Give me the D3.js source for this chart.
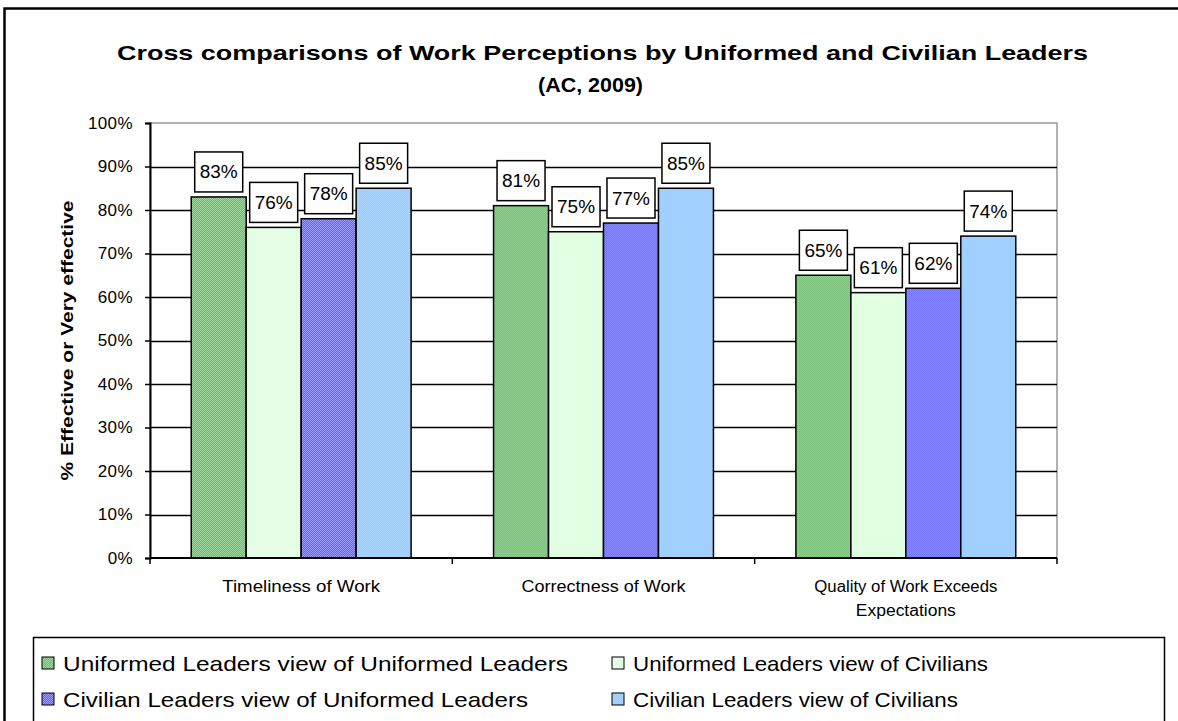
<!DOCTYPE html>
<html>
<head>
<meta charset="utf-8">
<script src="https://cdn.jsdelivr.net/npm/d3@7"></script>
<style>
  body { margin: 0; background: #fff; }
  svg { font-family: "Liberation Sans", Arial, sans-serif; display: block; }
</style>
</head>
<body>
<div id="chart"></div>
<script>
const categories = [["Timeliness of Work"], ["Correctness of Work"], ["Quality of Work Exceeds", "Expectations"]];
const seriesNames = [
  "Uniformed Leaders view of Uniformed Leaders",
  "Uniformed Leaders view of Civilians",
  "Civilian Leaders view of Uniformed Leaders",
  "Civilian Leaders view of Civilians"
];
const uniformedOfUniformed = [83, 81, 65];
const uniformedOfCivilians = [76, 75, 61];
const civilianOfUniformed = [78, 77, 62];
const civilianOfCivilians = [85, 85, 74];
const yTicks = [0, 10, 20, 30, 40, 50, 60, 70, 80, 90, 100];

const allSeries = [uniformedOfUniformed, uniformedOfCivilians, civilianOfUniformed, civilianOfCivilians];
const fills = [
  { a: "#6cb86c", b: "#a0d8a0" },
  { a: "#ddffdd", b: "#e6ffe6" },
  { a: "#6262ff", b: "#9a9aff" },
  { a: "#99ccff", b: "#a8d4ff" }
];
// widths the old Excel render stretches its text to
const catLineWidths = [[158], [164], [183, 100]];
const legendWidths = [505, 355, 465, 325];

const W = 1178, H = 721;
const plot = { left: 150, right: 1057, top: 123, bottom: 558 };

const svg = d3.select("#chart").append("svg")
  .attr("width", W).attr("height", H);

const defs = svg.append("defs");
fills.forEach((f, i) => {
  const p = defs.append("pattern")
    .attr("id", "pat" + i)
    .attr("width", 2).attr("height", 2)
    .attr("patternUnits", "userSpaceOnUse");
  p.append("rect").attr("width", 2).attr("height", 2).attr("fill", f.a);
  p.append("rect").attr("width", 1).attr("height", 1).attr("fill", f.b);
  p.append("rect").attr("x", 1).attr("y", 1).attr("width", 1).attr("height", 1).attr("fill", f.b);
});

// outer frame
svg.append("rect")
  .attr("x", 4.5).attr("y", 8.5)
  .attr("width", W + 20).attr("height", H + 20)
  .attr("fill", "none").attr("stroke", "#000").attr("stroke-width", 2.5);

// title
svg.append("text")
  .attr("x", 117).attr("y", 60)
  .attr("font-size", 21).attr("font-weight", "bold")
  .attr("textLength", 971).attr("lengthAdjust", "spacingAndGlyphs")
  .text("Cross comparisons of Work Perceptions by Uniformed and Civilian Leaders");
svg.append("text")
  .attr("x", 538).attr("y", 92)
  .attr("font-size", 21).attr("font-weight", "bold")
  .attr("textLength", 105).attr("lengthAdjust", "spacingAndGlyphs")
  .text("(AC, 2009)");

const y = d3.scaleLinear().domain([0, 100]).range([plot.bottom, plot.top]);
const x0 = d3.scaleBand().domain(d3.range(categories.length)).range([plot.left, plot.right]);
const x1 = d3.scaleBand().domain(d3.range(allSeries.length))
  .range([0, x0.bandwidth()]).paddingOuter(0.75).paddingInner(0);

// plot area border (grey)
svg.append("rect")
  .attr("x", plot.left).attr("y", plot.top)
  .attr("width", plot.right - plot.left).attr("height", plot.bottom - plot.top)
  .attr("fill", "none").attr("stroke", "#999").attr("stroke-width", 1.5);

// gridlines
svg.append("g")
  .selectAll("line")
  .data(yTicks.filter(d => d > 0 && d < 100))
  .join("line")
  .attr("x1", plot.left).attr("x2", plot.right)
  .attr("y1", d => Math.round(y(d)) + 0.5).attr("y2", d => Math.round(y(d)) + 0.5)
  .attr("stroke", "#000").attr("stroke-width", 1.5);

// bars
const groups = svg.append("g")
  .selectAll("g")
  .data(categories.map((c, i) => i))
  .join("g")
  .attr("transform", i => `translate(${x0(i)},0)`);

groups.selectAll("rect")
  .data(i => allSeries.map((s, k) => ({ k, v: s[i] })))
  .join("rect")
  .attr("x", d => x1(d.k))
  .attr("y", d => y(d.v))
  .attr("width", x1.bandwidth())
  .attr("height", d => y(0) - y(d.v))
  .attr("fill", d => `url(#pat${d.k})`)
  .attr("stroke", "#000").attr("stroke-width", 1.5);

// data labels
const lab = groups.selectAll("g.lab")
  .data(i => allSeries.map((s, k) => ({ k, v: s[i] })))
  .join("g")
  .attr("class", "lab")
  .attr("transform", d => `translate(${x1(d.k) + x1.bandwidth() / 2},${y(d.v) - 25})`);
lab.append("rect")
  .attr("x", -24).attr("y", -20).attr("width", 48).attr("height", 40)
  .attr("fill", "#fff").attr("stroke", "#000").attr("stroke-width", 1.5);
lab.append("text")
  .attr("text-anchor", "middle").attr("dy", "0.36em")
  .attr("font-size", 18)
  .attr("textLength", 38).attr("lengthAdjust", "spacingAndGlyphs")
  .text(d => d.v + "%");

// y axis
const yAxis = svg.append("g")
  .attr("transform", `translate(${plot.left},0)`)
  .call(d3.axisLeft(y).tickValues(yTicks).tickSize(5).tickPadding(12).tickFormat(d => d + "%"));
yAxis.select(".domain").attr("stroke", "#000").attr("stroke-width", 2);
yAxis.selectAll(".tick line").attr("stroke", "#000").attr("stroke-width", 1.5);
yAxis.selectAll(".tick text")
  .attr("font-size", 17).attr("letter-spacing", 0.4)
  .attr("font-family", "Liberation Sans, Arial, sans-serif").attr("fill", "#000");

// x axis
const xAxis = svg.append("g")
  .attr("transform", `translate(0,${plot.bottom})`);
xAxis.append("line")
  .attr("x1", plot.left).attr("x2", plot.right)
  .attr("stroke", "#000").attr("stroke-width", 2);
xAxis.selectAll("line.tk")
  .data(d3.range(categories.length + 1))
  .join("line")
  .attr("class", "tk")
  .attr("x1", i => i < categories.length ? x0(i) : plot.right)
  .attr("x2", i => i < categories.length ? x0(i) : plot.right)
  .attr("y1", 0).attr("y2", 6)
  .attr("stroke", "#000").attr("stroke-width", 1.5);
categories.forEach((lines, i) => {
  const cx = x0(i) + x0.bandwidth() / 2;
  lines.forEach((t, j) => {
    xAxis.append("text")
      .attr("x", cx - catLineWidths[i][j] / 2)
      .attr("y", 34 + j * 24)
      .attr("font-size", 16)
      .attr("textLength", catLineWidths[i][j]).attr("lengthAdjust", "spacingAndGlyphs")
      .text(t);
  });
});

// y axis title
svg.append("text")
  .attr("transform", `translate(73,${(plot.top + plot.bottom) / 2 + 140}) rotate(-90)`)
  .attr("font-size", 16).attr("font-weight", "bold")
  .attr("textLength", 280).attr("lengthAdjust", "spacingAndGlyphs")
  .text("% Effective or Very effective");

// legend
const legend = svg.append("g");
legend.append("rect")
  .attr("x", 33.5).attr("y", 637.5)
  .attr("width", 1131).attr("height", 120)
  .attr("fill", "#fff").attr("stroke", "#000").attr("stroke-width", 1.5);
const legPos = [[42, 663], [612, 663], [42, 699], [612, 699]];
seriesNames.forEach((name, k) => {
  const [lx, ly] = legPos[k];
  legend.append("rect")
    .attr("x", lx).attr("y", ly - 6).attr("width", 12).attr("height", 12)
    .attr("fill", `url(#pat${k})`).attr("stroke", "#000").attr("stroke-width", 1);
  legend.append("text")
    .attr("x", lx + 21).attr("y", ly).attr("dy", "0.36em")
    .attr("font-size", 21)
    .attr("textLength", legendWidths[k]).attr("lengthAdjust", "spacingAndGlyphs")
    .text(name);
});
</script>
</body>
</html>
